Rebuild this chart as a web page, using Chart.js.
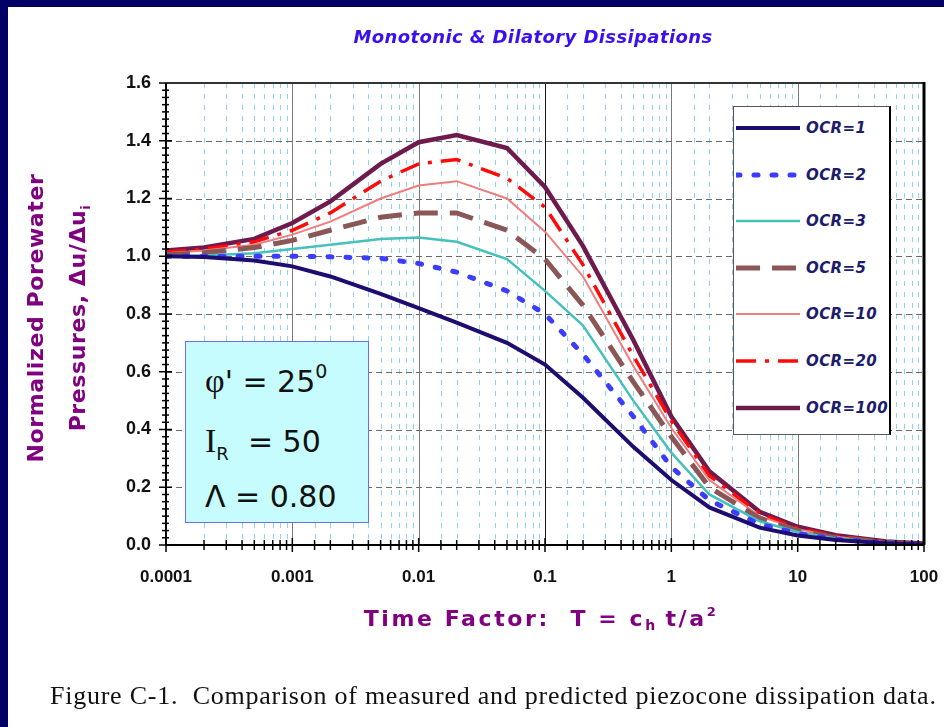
<!DOCTYPE html>
<html lang="en">
<head>
<meta charset="UTF-8">
<title>Monotonic &amp; Dilatory Dissipations</title>
<script src="https://cdn.jsdelivr.net/npm/chart.js"></script>
<style>
  html, body { margin: 0; padding: 0; }
  body { width: 944px; height: 727px; position: relative; overflow: hidden; background: #fff; }
  .frame { position: absolute; background: #000066; }
  #chart { position: absolute; left: 0; top: 0; }
  .title { position: absolute; left: 0; top: 26px; width: 1066px; text-align: center;
           font: italic bold 18px "DejaVu Sans", sans-serif; color: #3a10f0; letter-spacing: 0.4px; }
  .ytitle { position: absolute; left: -112px; top: 275px; width: 340px; height: 86px;
            transform: rotate(-90deg); text-align: center;
            font: bold 22px "DejaVu Sans", sans-serif; color: #800080; line-height: 42px; letter-spacing: 0.6px; }
  .xtitle { position: absolute; left: 0; top: 604px; width: 1082px; text-align: center;
            font: bold 22px "DejaVu Sans", sans-serif; color: #800080; letter-spacing: 2.6px; }
  .xtitle sub { font-size: 14px; vertical-align: -4px; letter-spacing: 0; }
  .xtitle sup { font-size: 13px; vertical-align: 10px; }
  .caption { position: absolute; left: 50px; top: 681px; white-space: nowrap;
             font: 26px "Liberation Serif", serif; color: #111; letter-spacing: 0.75px; }
  .inset { position: absolute; left: 185px; top: 341px; width: 182px; height: 180px;
           background: #c6fcfd; border: 1.5px solid #6b6bff; box-sizing: content-box; }
  .inset div { position: absolute; left: 19px; font: 30px "DejaVu Sans", sans-serif; color: #111; white-space: nowrap; }
  .inset sup { font-size: 19px; vertical-align: 14px; }
  .inset sub { font-size: 18px; vertical-align: -8px; }
  .serif { font-family: "Liberation Serif", serif; font-size: 34px; }
  #legend { position: absolute; left: 733px; top: 106px; width: 155px; height: 327px;
            background: #fff; border: 1.5px solid #555; border-right: 2px solid #000; }
  .row { position: absolute; left: 2px; height: 20px; display: flex; align-items: center; }
  .row span { margin-left: 6px; font: italic bold 15px "DejaVu Sans", sans-serif; color: #1c1c6c; letter-spacing: 0.4px; }
</style>
</head>
<body>
<div class="frame" style="left:0;top:0;width:944px;height:7px"></div>
<div class="frame" style="left:0;top:0;width:8px;height:727px"></div>
<canvas id="chart" width="944" height="727"></canvas>
<div class="title">Monotonic &amp; Dilatory Dissipations</div>
<div class="ytitle">Normalized Porewater<br>Pressures, &Delta;u/&Delta;u<sub style="font-size:13px">i</sub></div>
<div class="xtitle">Time Factor:&nbsp; T = c<sub>h</sub> t/a<sup>2</sup></div>
<div class="inset">
  <div style="top:18px"><span class="serif">&phi;</span>' = 25<sup>0</sup></div>
  <div style="top:80px"><span class="serif">I</span><sub>R</sub>&nbsp; = 50</div>
  <div style="top:137px">&Lambda; = 0.80</div>
</div>
<div id="legend"></div>
<div class="caption">Figure C-1.&nbsp; Comparison of measured and predicted piezocone dissipation data.</div>
<script>
// time factor T (log axis) and normalized excess porewater pressure for each OCR
const timeFactor = [0.0001, 0.0002, 0.0005, 0.001, 0.002, 0.005, 0.01, 0.02, 0.05, 0.1, 0.2, 0.5, 1, 2, 5, 10, 20, 50, 100];
const ocr1   = [1.0, 0.997, 0.985, 0.965, 0.93, 0.87, 0.82, 0.77, 0.70, 0.625, 0.51, 0.34, 0.225, 0.13, 0.06, 0.033, 0.017, 0.006, 0.002];
const ocr2   = [1.0, 1.0, 1.0, 1.0, 0.998, 0.993, 0.975, 0.945, 0.88, 0.80, 0.66, 0.445, 0.27, 0.155, 0.072, 0.04, 0.02, 0.007, 0.003];
const ocr3   = [1.0, 1.003, 1.01, 1.025, 1.04, 1.06, 1.065, 1.05, 0.99, 0.88, 0.76, 0.50, 0.32, 0.175, 0.082, 0.045, 0.023, 0.008, 0.003];
const ocr5   = [1.005, 1.012, 1.03, 1.055, 1.09, 1.135, 1.15, 1.15, 1.09, 0.99, 0.83, 0.565, 0.375, 0.20, 0.092, 0.05, 0.026, 0.009, 0.003];
const ocr10  = [1.01, 1.02, 1.04, 1.075, 1.12, 1.2, 1.245, 1.26, 1.2, 1.085, 0.93, 0.62, 0.405, 0.225, 0.10, 0.055, 0.029, 0.01, 0.004];
const ocr20  = [1.015, 1.025, 1.05, 1.09, 1.15, 1.26, 1.32, 1.335, 1.27, 1.17, 0.97, 0.655, 0.43, 0.24, 0.108, 0.058, 0.031, 0.011, 0.004];
const ocr100 = [1.02, 1.03, 1.06, 1.115, 1.19, 1.32, 1.395, 1.42, 1.375, 1.24, 1.035, 0.71, 0.445, 0.255, 0.115, 0.063, 0.034, 0.012, 0.005];
const ocrLabels = ['OCR=1', 'OCR=2', 'OCR=3', 'OCR=5', 'OCR=10', 'OCR=20', 'OCR=100'];
const xTickLabels = ['0.0001', '0.001', '0.01', '0.1', '1', '10', '100'];
const yTickLabels = ['0.0', '0.2', '0.4', '0.6', '0.8', '1.0', '1.2', '1.4', '1.6'];

const series = [ocr1, ocr2, ocr3, ocr5, ocr10, ocr20, ocr100];
const styles = [
  { color: '#1e0c70', width: 4, dash: [] },
  { color: '#3c3cff', width: 5, dash: [4, 14], cap: 'round' },
  { color: '#45c0bb', width: 2.5, dash: [] },
  { color: '#8a5656', width: 5, dash: [24, 12] },
  { color: '#f07c7c', width: 2, dash: [] },
  { color: '#ff0a0a', width: 3.5, dash: [20, 9, 4, 9] },
  { color: '#6e1a4c', width: 4.5, dash: [] }
];

function isDecade(v) {
  const e = Math.log10(v);
  return Math.abs(e - Math.round(e)) < 1e-6;
}

const plotFrame = {
  id: 'plotFrame',
  beforeDatasetsDraw(chart) {
    const { ctx, chartArea: a, scales: { x, y } } = chart;
    ctx.save();
    ctx.lineWidth = 1;
    x.ticks.forEach(t => {
      if (t.value <= x.min || t.value >= x.max) return;
      const px = Math.round(x.getPixelForValue(t.value)) + 0.5;
      if (isDecade(t.value)) {
        ctx.setLineDash([]);
        ctx.strokeStyle = Math.abs(t.value - 0.1) < 1e-9 ? '#111' : '#7a7a7a';
      } else {
        ctx.setLineDash([5, 6]);
        ctx.strokeStyle = '#8ed2fa';
      }
      ctx.beginPath();
      ctx.moveTo(px, a.top);
      ctx.lineTo(px, a.bottom);
      ctx.stroke();
    });
    ctx.setLineDash([6, 4]);
    ctx.strokeStyle = '#6a6a6a';
    y.ticks.forEach(t => {
      if (t.value <= y.min || t.value >= y.max) return;
      const py = Math.round(y.getPixelForValue(t.value)) + 0.5;
      ctx.beginPath();
      ctx.moveTo(a.left, py);
      ctx.lineTo(a.right, py);
      ctx.stroke();
    });
    ctx.restore();
  },
  afterDatasetsDraw(chart) {
    const { ctx, chartArea: a, scales: { x, y } } = chart;
    ctx.save();
    ctx.strokeStyle = '#000';
    ctx.lineWidth = 1.5;
    // minor ticks across the y axis
    for (let m = 0; m <= 64; m++) {
      const py = y.getPixelForValue(m * 0.025);
      const len = m % 8 === 0 ? 7 : 4;
      ctx.beginPath();
      ctx.moveTo(a.left - len, py);
      ctx.lineTo(a.left + len - 1, py);
      ctx.stroke();
    }
    // ticks across the x axis
    x.ticks.forEach(t => {
      const px = x.getPixelForValue(t.value);
      const len = isDecade(t.value) ? 7 : 5;
      ctx.beginPath();
      ctx.moveTo(px, a.bottom - len);
      ctx.lineTo(px, a.bottom + len);
      ctx.stroke();
    });
    // plot border
    ctx.lineWidth = 2;
    ctx.strokeStyle = '#333';
    ctx.beginPath();
    ctx.moveTo(a.left, a.top);
    ctx.lineTo(a.right, a.top);
    ctx.stroke();
    ctx.strokeStyle = '#000';
    ctx.beginPath();
    ctx.moveTo(a.left, a.top);
    ctx.lineTo(a.left, a.bottom);
    ctx.lineTo(a.right, a.bottom);
    ctx.stroke();
    ctx.lineWidth = 3;
    ctx.beginPath();
    ctx.moveTo(a.right, a.top - 1);
    ctx.lineTo(a.right, a.bottom);
    ctx.stroke();
    ctx.restore();
  }
};

const datasets = series.map((vals, i) => ({
  label: ocrLabels[i],
  data: timeFactor.map((t, k) => ({ x: t, y: vals[k] })),
  borderColor: styles[i].color,
  borderWidth: styles[i].width,
  borderDash: styles[i].dash,
  borderCapStyle: styles[i].cap || 'butt',
  pointRadius: 0,
  fill: false,
  tension: 0
}));

const chart = new Chart(document.getElementById('chart'), {
  type: 'line',
  data: { datasets: datasets },
  plugins: [plotFrame],
  options: {
    responsive: false,
    animation: false,
    layout: { padding: { left: 110, top: 83, right: 20, bottom: 142 } },
    plugins: { legend: { display: false }, tooltip: { enabled: false } },
    scales: {
      x: {
        type: 'logarithmic',
        min: 0.0001,
        max: 100,
        afterFit: s => { s.height = 40; s.paddingLeft = 0; s.paddingRight = 0; },
        grid: { display: false, drawTicks: false },
        border: { display: false },
        ticks: {
          autoSkip: false,
          maxRotation: 0,
          padding: 22,
          color: '#111',
          font: { family: 'Liberation Sans', weight: 'bold', size: 17 },
          callback: v => isDecade(v) ? xTickLabels[Math.round(Math.log10(v)) + 4] : ''
        }
      },
      y: {
        min: 0,
        max: 1.6,
        afterFit: s => { s.width = 56; s.paddingTop = 0; s.paddingBottom = 0; },
        grid: { display: false, drawTicks: false },
        border: { display: false },
        ticks: {
          stepSize: 0.2,
          padding: 15,
          color: '#111',
          font: { family: 'Liberation Sans', weight: 'bold', size: 18 },
          callback: (v, i) => yTickLabels[i]
        }
      }
    }
  }
});

// legend inside the plot, built from the datasets
const legend = document.getElementById('legend');
chart.data.datasets.forEach((ds, i) => {
  const row = document.createElement('div');
  row.className = 'row';
  row.style.top = (11 + i * 46.6) + 'px';
  row.innerHTML = '<svg width="64" height="20"><line x1="0" y1="10" x2="64" y2="10" stroke="' + ds.borderColor +
    '" stroke-width="' + ds.borderWidth + '" stroke-dasharray="' + ds.borderDash.join(' ') +
    '" stroke-linecap="' + ds.borderCapStyle + '"/></svg><span>' + ds.label + '</span>';
  legend.appendChild(row);
});
</script>
</body>
</html>
